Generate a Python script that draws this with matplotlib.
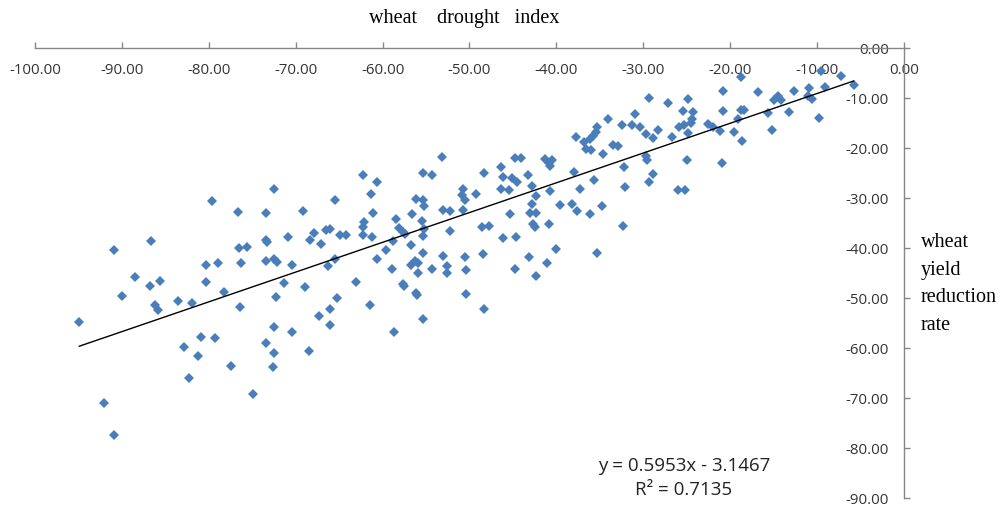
import numpy as np
import matplotlib
matplotlib.use("Agg")
import matplotlib.pyplot as plt
from matplotlib.ticker import FuncFormatter, MultipleLocator

# wheat drought index (x) vs wheat yield reduction rate (y)
drought_index = [
    -79.6, -76.6, -73.4, -90.9, -86.6, -76.5, -75.6, -73.4, -73.3, -80.3,
    -78.9, -76.3, -73.4, -88.5, -90.0, -86.8, -85.6, -80.3, -86.2, -85.9,
    -83.5, -81.9, -78.2, -76.4, -94.9, -80.9, -79.3, -82.8, -81.2, -77.5,
    -73.4, -82.3, -74.9, -92.1, -90.9,
    -53.2, -62.2, -60.6, -55.3, -54.3, -72.5, -61.3, -65.5, -56.2, -55.3,
    -55.2, -50.8, -49.3, -50.9, -50.5, -69.2, -61.1, -56.6, -53.1, -52.3,
    -50.7, -58.5, -55.5, -62.1, -62.2, -62.3, -61.2, -66.5, -66.1, -70.9,
    -67.9, -68.4, -67.1, -64.9, -64.2, -58.1, -57.7, -57.4, -55.2, -55.3,
    -52.3, -58.8, -56.7, -59.6, -55.3, -65.5, -66.3, -60.6, -72.5, -72.1,
    -70.4, -53.1, -50.5, -56.3, -55.9, -56.7, -58.9, -54.3, -52.6, -52.6,
    -50.4, -55.9, -71.4, -68.9, -63.1, -57.7, -57.5, -72.3, -65.3, -56.2,
    -56.0, -50.4, -61.5, -66.1, -67.3, -55.4, -72.5, -66.0, -70.4, -58.7,
    -68.5, -72.5, -72.6,
    -29.4, -27.2, -30.9, -34.1, -25.4, -32.4, -31.3, -30.4, -35.3, -35.4,
    -35.8, -36.1, -29.7, -28.9, -28.3, -26.7, -25.9, -25.3, -37.7, -36.8,
    -36.6, -36.0, -33.5, -32.9, -34.6, -29.7, -29.6, -44.8, -44.1, -41.3,
    -40.5, -40.9, -40.7, -46.4, -48.3, -32.2, -25.0, -46.2, -45.1, -44.5,
    -43.3, -38.0, -28.9, -42.8, -42.4, -46.4, -45.5, -40.7, -37.3, -35.7,
    -32.1, -29.4, -26.0, -25.2, -42.8, -43.0, -42.3, -45.3, -39.6, -38.2,
    -37.6, -36.1, -34.7, -48.6, -47.7, -42.7, -42.5, -40.9, -32.3, -46.1,
    -44.7, -40.1, -48.5, -43.2, -35.3, -41.1, -44.8, -42.4, -48.3, -24.8,
    -24.8, -24.3, -24.4, -24.5,
    -18.8, -20.8, -16.8, -20.8, -18.8, -18.4, -19.1, -22.6, -22.0, -21.2,
    -19.6, -18.6, -20.9, -15.6, -15.2, -15.0, -14.5, -14.2, -13.2, -12.7,
    -10.9, -11.1, -10.6, -9.8, -9.5, -9.1, -7.2, -5.8,
]
yield_reduction = [
    -30.5, -32.7, -32.9, -40.4, -38.6, -40.0, -39.7, -38.3, -38.8, -43.3,
    -42.9, -42.9, -42.5, -45.7, -49.6, -47.6, -46.5, -46.8, -51.3, -52.3,
    -50.5, -50.9, -48.7, -51.8, -54.7, -57.7, -58.0, -59.8, -61.5, -63.5,
    -58.9, -65.9, -69.2, -71.0, -77.3,
    -21.7, -25.3, -26.7, -24.9, -25.4, -28.2, -29.1, -30.4, -30.1, -30.3,
    -31.5, -28.1, -29.1, -29.4, -30.3, -32.6, -32.9, -33.1, -32.3, -32.6,
    -32.4, -34.2, -34.5, -34.7, -35.7, -37.3, -37.7, -36.3, -36.1, -37.7,
    -37.0, -38.3, -39.2, -37.4, -37.4, -35.9, -36.7, -37.2, -36.1, -37.5,
    -36.6, -38.6, -39.4, -40.4, -41.0, -42.1, -43.5, -42.2, -42.2, -42.7,
    -43.4, -41.5, -41.8, -42.5, -43.0, -43.4, -44.1, -44.1, -43.5, -45.0,
    -44.3, -44.9, -46.9, -47.7, -46.7, -47.1, -47.5, -49.7, -49.9, -49.0,
    -49.4, -49.1, -51.4, -52.1, -53.6, -54.1, -55.7, -55.4, -56.7, -56.7,
    -60.6, -60.9, -63.7,
    -10.0, -10.9, -13.1, -14.2, -12.5, -15.4, -15.4, -15.7, -15.7, -16.7,
    -17.5, -18.1, -17.2, -17.9, -16.3, -17.7, -15.7, -15.4, -17.7, -18.7,
    -20.2, -20.4, -19.3, -19.5, -21.2, -21.5, -22.3, -21.9, -21.9, -22.2,
    -22.3, -22.9, -23.5, -23.7, -24.9, -23.7, -22.3, -25.7, -25.9, -26.7,
    -25.4, -24.7, -25.2, -27.5, -29.5, -28.2, -28.4, -28.5, -28.2, -26.3,
    -27.8, -26.7, -28.4, -28.3, -31.2, -33.0, -33.0, -33.1, -31.3, -31.1,
    -32.5, -33.1, -31.6, -35.7, -35.5, -35.2, -35.7, -35.1, -35.5, -38.0,
    -37.7, -40.2, -41.2, -41.7, -41.0, -42.9, -44.2, -45.5, -52.2, -10.1,
    -16.9, -12.7, -14.2, -15.0,
    -5.7, -8.5, -8.7, -12.5, -12.3, -12.4, -14.2, -15.1, -15.7, -16.6,
    -16.7, -18.5, -23.0, -13.0, -16.3, -10.3, -9.5, -10.3, -12.7, -8.5,
    -8.0, -9.5, -10.2, -14.0, -4.5, -7.7, -5.5, -7.3,
]

# linear trend shown on the chart
slope = 0.5953
intercept = -3.1467
equation_text = "y = 0.5953x - 3.1467"
r2_text = "R\u00b2 = 0.7135"

x = np.array(drought_index)
y = np.array(yield_reduction)

fig = plt.figure(figsize=(10.03, 5.08), dpi=100)
ax = fig.add_axes([35 / 1003, 10 / 508, 869 / 1003, 450 / 508])

ax.plot(x, y, linestyle="none", marker="D", markersize=5.6,
        color="#4a7ebb", markeredgewidth=0)

# trend line over the data range
xl = np.array([x.min(), x.max()])
ax.plot(xl, slope * xl + intercept, color="black", linewidth=1.0)

ax.set_xlim(-100, 0)
ax.set_ylim(-90, 0)

# axes cross at 0: x axis along the top, y axis along the right
for s in ["top", "right"]:
    ax.spines[s].set_visible(False)
ax.spines["bottom"].set_position(("data", 0))
ax.spines["left"].set_position(("data", 0))
for s in ["bottom", "left"]:
    ax.spines[s].set_color("#868686")
    ax.spines[s].set_linewidth(1.0)

ax.xaxis.set_major_locator(MultipleLocator(10))
ax.yaxis.set_major_locator(MultipleLocator(10))
fmt = FuncFormatter(lambda v, p: f"{v:.2f}" if abs(v) > 1e-9 else "0.00")
ax.xaxis.set_major_formatter(fmt)
ax.yaxis.set_major_formatter(fmt)
ax.tick_params(axis="both", direction="in", length=4, width=1,
               color="#868686", labelsize=10.8, labelcolor="#333333",
               pad=11)
for lab in ax.get_xticklabels() + ax.get_yticklabels():
    lab.set_family(["Open Sans", "DejaVu Sans"])

fig.text(464 / 1003, 1 - 18 / 508, "wheat    drought   index",
         family="Liberation Serif", fontsize=14.5, ha="center", va="center")
fig.text(921 / 1003, 1 - 284 / 508, "wheat\nyield\nreduction\nrate",
         family="Liberation Serif", fontsize=14.5, ha="left", va="center",
         linespacing=1.6)

fig.text(684 / 1003, 1 - 466 / 508, equation_text, family="Open Sans",
         fontsize=13.5, ha="center", va="center", color="#222222")
fig.text(684 / 1003, 1 - 490 / 508, r2_text, family="Open Sans",
         fontsize=13.5, ha="center", va="center", color="#222222")

fig.savefig("out.png", dpi=100)
